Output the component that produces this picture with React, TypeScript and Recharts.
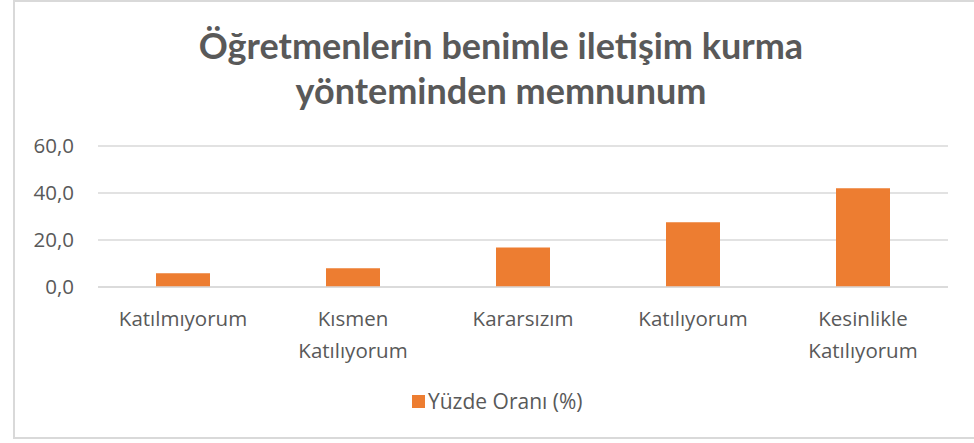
import React from "react";
import { BarChart, Bar, XAxis, YAxis, CartesianGrid } from "recharts";

const categories = ["Katılmıyorum", "Kısmen Katılıyorum", "Kararsızım", "Katılıyorum", "Kesinlikle Katılıyorum"];
const values = [5.8, 8.0, 16.8, 27.6, 42.0];
const yTicks = [0, 20, 40, 60];
const seriesName = "Yüzde Oranı (%)";
const titleLines = ["Öğretmenlerin benimle iletişim kurma", "yönteminden memnunum"];

const data = categories.map((c, i) => ({ name: c, value: values[i] }));

const FONT = "'Open Sans', 'Noto Sans', sans-serif";
const TEXT = "#595959";
const FS = 20.5;

const XTick = (props: any) => {
  const { x, y, payload } = props;
  const words = String(payload.value).split(" ");
  return (
    <g>
      {words.map((w: string, i: number) => (
        <text key={i} x={x} y={y + 31 + i * 32} textAnchor="middle" fill={TEXT} fontSize={FS} fontFamily={FONT}>
          {w}
        </text>
      ))}
    </g>
  );
};

export default function App() {
  return (
    <div style={{ position: "absolute", left: 0, top: 0, width: 974, height: 443, background: "#fff", overflow: "hidden" }}>
      <div style={{ position: "absolute", left: 13, top: 0, width: 980, height: 439, border: "2px solid #d9d9d9", boxSizing: "border-box" }} />
      <div
        style={{
          position: "absolute",
          left: 0,
          top: 23,
          width: 1002,
          textAlign: "center",
          fontFamily: "'Lato', sans-serif",
          fontWeight: 700,
          fontSize: 36,
          lineHeight: "45px",
          color: TEXT,
        }}
      >
        {titleLines.map((l, i) => (
          <div key={i}>{l}</div>
        ))}
      </div>
      <div style={{ position: "absolute", left: 0, top: 0 }}>
        <BarChart width={974} height={443} data={data} margin={{ top: 146, right: 26, bottom: 86, left: 38 }}>
          <CartesianGrid vertical={false} stroke="#d9d9d9" strokeWidth={1.5} />
          <XAxis dataKey="name" axisLine={{ stroke: "#d9d9d9", strokeWidth: 1.5 }} tickLine={false} tick={<XTick />} height={70} interval={0} />
          <YAxis
            domain={[0, 60]}
            ticks={yTicks}
            axisLine={false}
            tickLine={false}
            tickMargin={18}
            width={60}
            tickFormatter={(v: number) => v.toFixed(1).replace(".", ",")}
            tick={{ fill: TEXT, fontSize: FS, fontFamily: FONT }}
          />
          <Bar dataKey="value" name={seriesName} fill="#ED7D31" barSize={54} isAnimationActive={false} />
        </BarChart>
      </div>
      <div
        style={{
          position: "absolute",
          left: 412,
          top: 386,
          height: 30,
          display: "flex",
          alignItems: "center",
          fontFamily: FONT,
          fontSize: 21,
          color: TEXT,
        }}
      >
        <span style={{ display: "inline-block", width: 13, height: 13, background: "#ED7D31", marginRight: 3 }} />
        <span>{seriesName}</span>
      </div>
    </div>
  );
}
